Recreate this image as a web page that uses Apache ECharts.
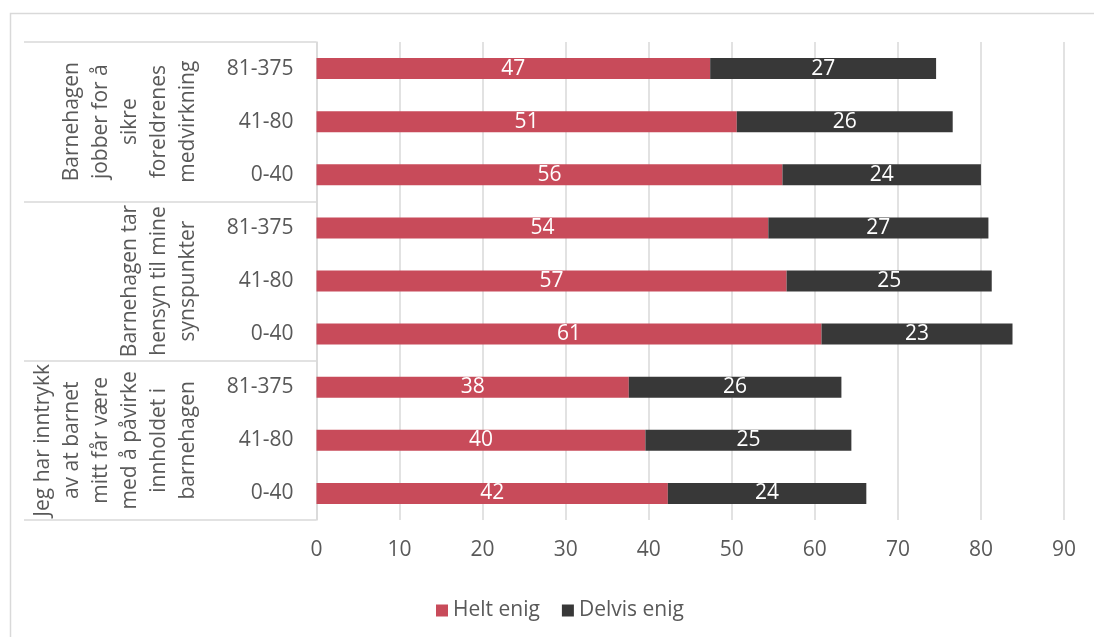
<!DOCTYPE html>
<html>
<head>
<meta charset="utf-8">
<script src="https://cdn.jsdelivr.net/npm/echarts@6/dist/echarts.min.js"></script>
<style>
html,body{margin:0;padding:0;background:#fff;}
#chart{width:1094px;height:637px;}
</style>
</head>
<body>
<div id="chart"></div>
<script>
// Row categories (top to bottom)
const categories = ['81-375','41-80','0-40','81-375','41-80','0-40','81-375','41-80','0-40'];
// Group labels (top to bottom)
const groups = [
  'Barnehagen\njobber for å\nsikre\nforeldrenes\nmedvirkning',
  'Barnehagen tar\nhensyn til mine\nsynspunkter',
  'Jeg har inntrykk\nav at barnet\nmitt får være\nmed å påvirke\ninnholdet i\nbarnehagen'
];
const seriesNames = ['Helt enig','Delvis enig'];
const heltEnig   = [47.4, 50.6, 56.1, 54.4, 56.6, 60.8, 37.6, 39.6, 42.3];
const delvisEnig = [27.2, 26.0, 23.9, 26.5, 24.7, 23.0, 25.6, 24.8, 23.9];
const xTicks = {min: 0, max: 90, interval: 10};

const FONT = '"Open Sans", "Noto Sans", sans-serif';
const GRAY = '#595959';
const LINE = '#d9d9d9';

const chart = echarts.init(document.getElementById('chart'), null, {renderer: 'canvas'});
const labelCfg = {
  show: true, position: 'inside', color: '#ffffff', fontSize: 21, fontFamily: FONT,
  formatter: p => Math.round(p.value)
};
chart.setOption({
  animation: false,
  backgroundColor: '#ffffff',
  textStyle: {fontFamily: FONT},
  graphic: [{
    type: 'rect', silent: true, z: -10,
    shape: {x: 10.5, y: 13.5, width: 1200, height: 800},
    style: {fill: 'none', stroke: LINE, lineWidth: 1.5}
  }],
  grid: {left: 316.5, right: 30, top: 42, bottom: 117, containLabel: false},
  legend: {
    data: seriesNames, left: 431, top: 595,
    icon: 'rect', itemWidth: 12, itemHeight: 12, itemGap: 22,
    textStyle: {color: GRAY, fontSize: 21, fontFamily: FONT}
  },
  xAxis: {
    type: 'value', min: xTicks.min, max: xTicks.max, interval: xTicks.interval,
    axisLine: {show: false}, axisTick: {show: false},
    splitLine: {show: true, lineStyle: {color: LINE, width: 1.5}},
    axisLabel: {color: GRAY, fontSize: 21, fontFamily: FONT, margin: 20}
  },
  yAxis: [{
    type: 'category', data: categories, inverse: true, position: 'left',
    axisLine: {show: true, lineStyle: {color: LINE, width: 1.5}},
    axisTick: {show: false},
    axisLabel: {color: GRAY, fontSize: 21, fontFamily: FONT, margin: 23}
  }, {
    type: 'category', data: groups, inverse: true, position: 'left',
    axisLine: {show: false},
    axisTick: {show: true, length: 292.5, interval: 0, lineStyle: {color: LINE, width: 1.5}},
    axisLabel: {color: GRAY, fontSize: 21, fontFamily: FONT, rotate: 90, margin: 114, lineHeight: 29, align: 'center', interval: 0}
  }],
  series: [{
    name: seriesNames[0], type: 'bar', stack: 's', yAxisIndex: 0, barWidth: 21,
    itemStyle: {color: '#c84b5a'}, label: labelCfg, data: heltEnig
  }, {
    name: seriesNames[1], type: 'bar', stack: 's', yAxisIndex: 0, barWidth: 21,
    itemStyle: {color: '#383838'}, label: labelCfg, data: delvisEnig
  }]
});
</script>
</body>
</html>
